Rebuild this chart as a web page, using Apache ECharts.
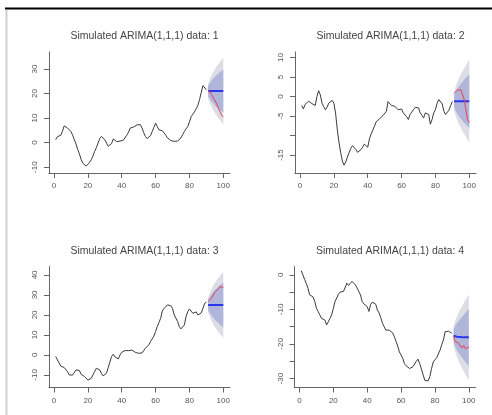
<!DOCTYPE html>
<html><head><meta charset="utf-8">
<script src="https://cdn.jsdelivr.net/npm/echarts@6/dist/echarts.min.js"></script>
<style>html,body{margin:0;padding:0;background:#fff}#c{width:492px;height:415px}</style>
</head><body><div id="c"></div>
<script>
const titles = ["Simulated ARIMA(1,1,1) data: 1","Simulated ARIMA(1,1,1) data: 2","Simulated ARIMA(1,1,1) data: 3","Simulated ARIMA(1,1,1) data: 4"];
const xTicks = [0,20,40,60,80,100];
const yTicks1 = [-10,0,10,20,30];        const yLabels1 = [-10,0,10,20,30];
const yTicks2 = [-15,-10,-5,0,5,10];     const yLabels2 = [-15,-5,0,5,10];
const yTicks3 = [-10,0,10,20,30,40];     const yLabels3 = [-10,0,10,20,30,40];
const yTicks4 = [-30,-25,-20,-15,-10,-5,0]; const yLabels4 = [-30,-20,-10,0];

const obs1 = [1.2,2.4,3.2,3.0,4.6,6.8,6.2,5.9,5.4,4.5,
  3.0,1.2,-0.6,-2.8,-4.6,-6.8,-8.4,-9.2,-9.6,-9.0,
  -8.1,-7.0,-5.5,-3.6,-2.1,-0.2,1.6,2.5,2.0,1.2,
  -0.2,-1.5,-2.3,-0.4,1.5,1.2,0.4,-0.1,0.6,0.5,
  1.0,1.2,3.0,4.2,5.9,5.6,6.3,6.8,7.2,7.0,
  7.3,5.9,4.0,2.5,1.6,1.9,2.8,4.5,6.2,7.9,
  6.5,5.2,4.5,4.8,3.9,3.0,1.9,1.4,0.8,0.6,
  0.5,0.7,0.6,1.2,1.9,3.2,4.5,5.6,6.5,8.4,
  10.5,11.6,12.5,13.8,15.2,17.6,20.5,23.2,22.8,21.5];
const obs2 = [-2.3,-3.2,-2.1,-1.6,-1.2,-0.8,-1.8,-2.0,-2.3,0.0,
  1.5,0.4,-1.7,-2.6,-3.4,-2.7,-1.7,-1.4,-1.0,-1.7,
  -4.2,-8.4,-11.7,-14.3,-16.5,-17.6,-16.8,-15.5,-14.4,-13.3,
  -12.6,-13.0,-13.6,-14.3,-14.0,-13.6,-13.0,-12.2,-11.7,-13.0,
  -10.9,-9.6,-8.6,-7.6,-6.5,-6.2,-5.7,-5.5,-4.9,-4.4,
  -3.8,-1.3,-1.8,-2.3,-2.7,-2.5,-2.6,-3.4,-3.0,-3.2,
  -4.2,-4.6,-5.2,-5.9,-4.6,-4.0,-3.4,-2.8,-2.6,-2.9,
  -4.2,-4.8,-5.5,-4.2,-4.4,-4.6,-7.1,-5.9,-4.2,-3.4,
  -1.7,-0.8,-1.2,-1.9,-3.8,-4.6,-4.2,-3.5,-2.3,-1.3];
const obs3 = [-0.8,-2.5,-4.0,-5.6,-6.2,-6.3,-7.0,-8.4,-10.0,-10.3,
  -10.1,-9.7,-7.5,-7.6,-7.8,-9.7,-10.2,-10.8,-11.7,-12.6,
  -13.3,-11.7,-10.0,-8.4,-6.7,-5.8,-7.5,-9.2,-10.5,-11.3,
  -9.2,-6.4,-3.6,-0.8,0.3,-1.0,-1.8,-2.0,0.0,1.3,
  2.0,2.2,2.0,2.1,2.2,2.4,3.0,1.3,1.0,0.8,
  0.8,1.0,1.7,3.3,4.2,5.0,6.7,7.6,9.4,11.7,
  14.2,16.2,18.3,22.0,23.2,24.2,25.0,25.3,24.6,23.3,
  20.0,18.4,16.7,14.2,13.0,12.6,15.0,19.2,21.6,23.0,
  22.0,20.8,21.0,21.5,20.0,19.7,21.0,23.4,25.8,26.3];
const obs4 = [1.2,0.0,-1.3,-2.5,-3.9,-5.8,-5.6,-6.4,-7.7,-9.7,
  -10.6,-11.6,-12.6,-12.8,-13.1,-14.5,-13.6,-12.6,-11.6,-9.7,
  -7.7,-6.7,-5.6,-5.0,-5.1,-4.8,-4.4,-2.4,-3.1,-2.5,
  -1.9,-1.7,-2.9,-3.8,-4.8,-5.8,-7.7,-8.4,-8.9,-9.2,
  -10.6,-8.6,-7.9,-7.7,-8.5,-10.2,-11.0,-12.4,-14.0,-15.0,
  -16.0,-16.5,-16.0,-16.2,-16.8,-17.9,-19.2,-20.6,-22.3,-23.2,
  -24.2,-25.7,-26.3,-26.8,-27.1,-27.0,-26.6,-25.8,-25.0,-24.4,
  -25.7,-27.2,-28.9,-30.5,-30.6,-30.7,-29.4,-27.1,-25.2,-24.6,
  -24.0,-23.7,-21.8,-20.2,-18.9,-16.5,-16.4,-16.3,-16.5,-16.9];

const fcX = [91,92,93,94,95,96,97,98,99,100];

const mean1 = [21.0,21.0,21.0,21.0,21.0,21.0,21.0,21.0,21.0,21.0];
const lo95_1 = [18.1,16.1,14.6,13.3,12.1,11.0,10.1,9.2,8.3,7.5];
const lo80_1 = [19.1,17.8,16.8,16.0,15.2,14.5,13.9,13.3,12.7,12.2];
const hi80_1 = [22.9,24.2,25.2,26.0,26.8,27.5,28.1,28.7,29.3,29.8];
const hi95_1 = [23.9,25.9,27.4,28.7,29.9,31.0,31.9,32.8,33.7,34.5];
const test1 = [21.6,20.8,19.6,18.4,17.6,16.0,14.2,12.6,11.2,10.4];

const mean2 = [-1.2,-1.2,-1.2,-1.2,-1.2,-1.2,-1.2,-1.2,-1.2,-1.2];
const lo95_2 = [-3.5,-5.0,-6.2,-7.2,-8.1,-8.9,-9.6,-10.3,-11.1,-11.8];
const lo80_2 = [-2.7,-3.7,-4.5,-5.1,-5.7,-6.2,-6.7,-7.2,-7.6,-8.1];
const hi80_2 = [0.3,1.3,2.1,2.7,3.3,3.8,4.3,4.8,5.2,5.7];
const hi95_2 = [1.1,2.6,3.8,4.8,5.7,6.5,7.2,7.9,8.7,9.4];
const test2 = [0.8,0.7,1.7,2.1,1.7,1.3,-0.8,-3.4,-5.9,-6.7];

const mean3 = [25.0,25.0,25.0,25.0,25.0,25.0,25.0,25.0,25.0,25.0];
const lo95_3 = [21.4,19.0,17.1,15.5,14.0,12.8,11.6,10.5,9.4,8.4];
const lo80_3 = [22.6,21.0,19.7,18.6,17.6,16.8,16.0,15.2,14.5,13.8];
const hi80_3 = [27.4,29.0,30.3,31.4,32.4,33.2,34.0,34.8,35.5,36.2];
const hi95_3 = [28.6,31.0,32.9,34.5,36.0,37.2,38.4,39.5,40.6,41.6];
const test3 = [26.7,27.5,28.4,29.2,31.3,32.0,33.0,34.2,34.4,33.7];

const mean4 = [-17.6,-17.8,-17.9,-18.0,-18.0,-18.1,-18.1,-18.1,-18.1,-18.1];
const lo95_4 = [-20.3,-22.3,-23.8,-25.0,-26.0,-27.0,-27.9,-28.9,-29.7,-30.5];
const lo80_4 = [-19.4,-20.8,-21.8,-22.6,-23.3,-24.0,-24.6,-25.2,-25.8,-26.3];
const hi80_4 = [-15.8,-14.8,-14.0,-13.4,-12.7,-12.2,-11.6,-11.0,-10.4,-9.9];
const hi95_4 = [-14.9,-13.3,-12.0,-11.0,-10.0,-9.2,-8.3,-7.3,-6.5,-5.7];
const test4 = [-17.8,-19.3,-18.9,-19.8,-20.6,-21.2,-20.4,-21.4,-21.8,-20.9];

const panels = [
  {obs:obs1, mean:mean1, lo95:lo95_1, lo80:lo80_1, hi80:hi80_1, hi95:hi95_1, test:test1, yt:yTicks1, yl:yLabels1},
  {obs:obs2, mean:mean2, lo95:lo95_2, lo80:lo80_2, hi80:hi80_2, hi95:hi95_2, test:test2, yt:yTicks2, yl:yLabels2},
  {obs:obs3, mean:mean3, lo95:lo95_3, lo80:lo80_3, hi80:hi80_3, hi95:hi95_3, test:test3, yt:yTicks3, yl:yLabels3},
  {obs:obs4, mean:mean4, lo95:lo95_4, lo80:lo80_4, hi80:hi80_4, hi95:hi95_4, test:test4, yt:yTicks4, yl:yLabels4}
];

// layout (pixels) and axis ranges
const layout = [
  {left:49,  top:52,    ymin:-12.4, ymax:36.9},
  {left:295, top:52,    ymin:-19.6, ymax:11.4},
  {left:49,  top:266.5, ymin:-16.3, ymax:44.2},
  {left:294.5, top:266.5, ymin:-32.6, ymax:2.4}
];
const GW = 181, GH = 121;
const FONT = "'Liberation Sans', Arial, sans-serif";
const axisCol = '#666', textCol = '#555';

const grids = [], xAxes = [], yAxes = [], series = [], titleOpts = [];
panels.forEach((p, i) => {
  const L = layout[i];
  grids.push({left:L.left, top:L.top, width:GW, height:GH});
  titleOpts.push({text:titles[i], left:L.left + GW/2, top:L.top - 26, textAlign:'center',
    textStyle:{fontFamily:FONT, fontSize:10.5, fontWeight:'normal', color:'#444'}});
  xAxes.push({gridIndex:i, type:'value', min:-2.96, max:103.96,
    axisLine:{show:true, onZero:false, lineStyle:{color:axisCol, width:1}},
    axisTick:{show:true, length:5, customValues:xTicks, lineStyle:{color:axisCol}},
    axisLabel:{customValues:xTicks, margin:9, fontFamily:FONT, fontSize:8, color:textCol},
    splitLine:{show:false}});
  yAxes.push({gridIndex:i, type:'value', min:L.ymin, max:L.ymax,
    axisLine:{show:true, onZero:false, lineStyle:{color:axisCol, width:1}},
    axisTick:{show:true, length:5, customValues:p.yt, lineStyle:{color:axisCol}},
    axisLabel:{customValues:p.yl, rotate:90, margin:10, fontFamily:FONT, fontSize:8, color:textCol},
    splitLine:{show:false}});
  const band = (lo, hi, color) => ({
    type:'custom', xAxisIndex:i, yAxisIndex:i, silent:true, clip:true, z:2,
    data:[[fcX[0], lo[0]]],
    renderItem: function(params, api){
      const pts = [];
      for (let k = 0; k < fcX.length; k++) pts.push(api.coord([fcX[k], hi[k]]));
      for (let k = fcX.length - 1; k >= 0; k--) pts.push(api.coord([fcX[k], lo[k]]));
      return {type:'polygon', shape:{points:pts}, style:{fill:color}};
    }
  });
  series.push(band(p.lo95, p.hi95, '#dcdde5'));
  series.push(band(p.lo80, p.hi80, '#b0b6da'));
  series.push({type:'line', xAxisIndex:i, yAxisIndex:i, showSymbol:false, symbol:'none', z:3,
    data:p.obs.map((v, k) => [k + 1, v]), lineStyle:{color:'#3a3a3a', width:1}});
  series.push({type:'line', xAxisIndex:i, yAxisIndex:i, showSymbol:false, symbol:'none', z:4,
    data:p.mean.map((v, k) => [fcX[k], v]), lineStyle:{color:'#2a35f0', width:2}});
  series.push({type:'line', xAxisIndex:i, yAxisIndex:i, showSymbol:false, symbol:'none', z:5,
    data:p.test.map((v, k) => [fcX[k], v]), lineStyle:{color:'#ee3a50', width:1}});
});

const chart = echarts.init(document.getElementById('c'), null, {renderer:'canvas'});
chart.setOption({
  backgroundColor:'#fff',
  animation:false,
  title:titleOpts,
  grid:grids, xAxis:xAxes, yAxis:yAxes, series:series,
  graphic:[
    {type:'line', shape:{x1:5, y1:8.5, x2:492, y2:8.5}, style:{stroke:'#000', lineWidth:2}, z:100},
    {type:'line', shape:{x1:6.5, y1:10, x2:6.5, y2:415}, style:{stroke:'#cfcfcf', lineWidth:2}, z:100}
  ]
});
</script></body></html>
